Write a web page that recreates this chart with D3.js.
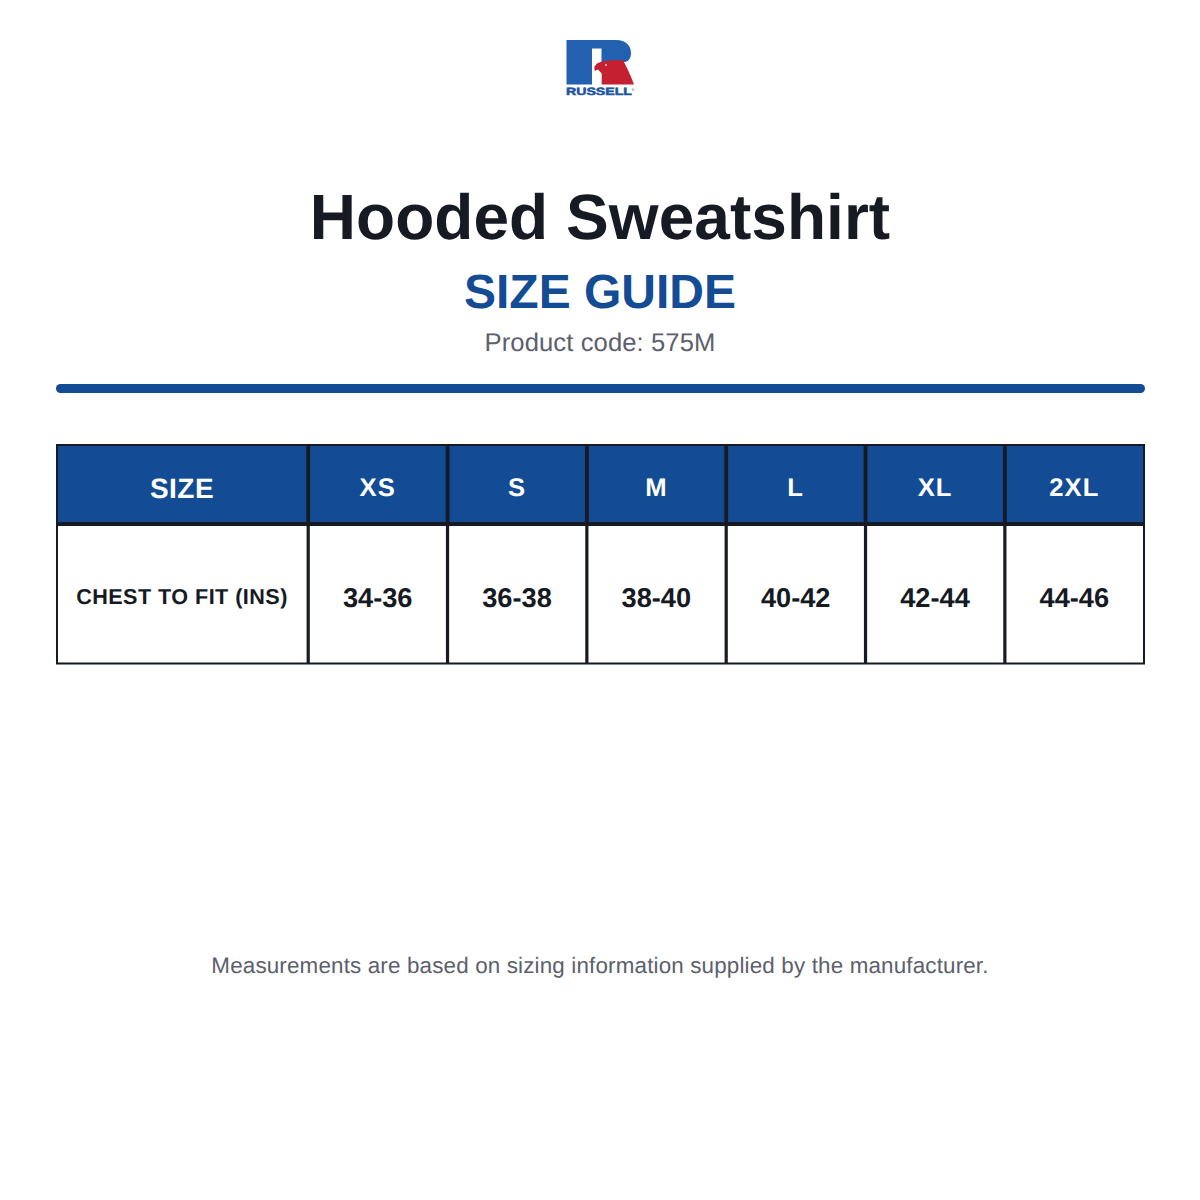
<!DOCTYPE html>
<html>
<head>
    <meta charset="utf-8">
    <title>Size Guide</title>
    <script src="https://d3js.org/d3.v7.min.js"></script>
    <style>
        html, body { margin: 0; background: #fff; }
        svg { display: block; }
        text { font-family: "Liberation Sans", Arial, sans-serif; text-anchor: middle; text-rendering: geometricPrecision; }
    </style>
</head>
<body>
    <svg class="guide"></svg>
    <script>
        const sizes = ["XS", "S", "M", "L", "XL", "2XL"]
        const chest = ["34-36", "36-38", "38-40", "40-42", "42-44", "44-46"]
        const rowHead = "SIZE"
        const rowLabel = "CHEST TO FIT (INS)"

        const blue = "#134b95", ink = "#151a23", grey = "#5c606c"
        const width = 1200, height = 1200

        const svg = d3.select(".guide").attr("width", width).attr("height", height)

        // logo
        const logo = svg.append("g")
        logo.append("path").attr("fill", "#2360b0")
            .attr("d", "M566.5 40H616C626 40 631 46 631 53C631 58 629 61 625 62H601.5V48.5H592V84.5H566.5Z")
        logo.append("path").attr("fill", "#c42032")
            .attr("d", "M594.3 66.7L597 63.5L601.7 61.5C609 60 617 60 623 60C627 68 631 76 634 84.5H601.7V73.5L598 69.5L594.7 71Z")
        logo.append("circle").attr("cx", 606).attr("cy", 65).attr("r", 0.9).attr("fill", "#f3d9d9")
        logo.append("text").attr("x", 566).attr("y", 94.8).attr("fill", "#1d55a3")
            .style("text-anchor", "start")
            .attr("font-size", 10.6).attr("font-weight", 700).attr("stroke", "#1d55a3").attr("stroke-width", 0.5)
            .attr("textLength", 66).attr("lengthAdjust", "spacingAndGlyphs").text("RUSSELL")
        logo.append("text").attr("x", 633).attr("y", 91).attr("fill", "#1d55a3")
            .attr("font-size", 4).text("®")

        // headings
        const title = (txt, y, size, weight, fill, spacing) => svg.append("text")
            .attr("x", 600).attr("y", y).attr("font-size", size).attr("font-weight", weight)
            .attr("letter-spacing", spacing).attr("fill", fill).text(txt)
        title("Hooded Sweatshirt", 238.5, 64, 700, ink, 0.05)
        title("SIZE GUIDE", 308, 48, 700, blue, 0)
        title("Product code: 575M", 351, 25.6, 400, grey, 0.1)
        title("Measurements are based on sizing information supplied by the manufacturer.", 973, 22.4, 400, grey, 0.16)

        svg.append("rect").attr("x", 56).attr("y", 384).attr("width", 1089).attr("height", 9)
            .attr("rx", 4.5).attr("fill", blue)

        // table
        const x = d3.scaleBand().domain(sizes).range([308, 1144])
        const y = d3.scaleOrdinal().domain(["top", "split", "bottom"]).range([445, 524, 663.5])

        svg.append("rect").attr("x", 57).attr("y", y("top")).attr("width", 1087)
            .attr("height", y("split") - y("top")).attr("fill", blue)

        const line = (x1, y1, x2, y2, w) => svg.append("line")
            .attr("x1", x1).attr("y1", y1).attr("x2", x2).attr("y2", y2)
            .attr("stroke", ink).attr("stroke-width", w)

        sizes.forEach(s => {
            line(x(s) + 0.2, y("top"), x(s) + 0.2, y("split"), 3.8)
            line(x(s) + 0.2, y("split"), x(s) + 0.2, y("bottom"), 3.2)
        })
        line(56, y("top"), 1145, y("top"), 2)
        line(56, y("split"), 1145, y("split"), 4)
        line(56, y("bottom"), 1145, y("bottom"), 2)
        line(57, y("top"), 57, y("bottom"), 2)
        line(1144, y("top"), 1144, y("bottom"), 2)

        sizes.forEach((s, i) => {
            const cx = x(s) + x.bandwidth() / 2
            svg.append("text").attr("x", cx).attr("y", 496).attr("letter-spacing", 1)
                .attr("font-size", 25.6).attr("font-weight", 700).attr("fill", "#fff").text(s)
            svg.append("text").attr("x", cx).attr("y", 607)
                .attr("font-size", 27.2).attr("font-weight", 700).attr("fill", ink).text(chest[i])
        })
        svg.append("text").attr("x", 182).attr("y", 498).attr("font-size", 28).attr("letter-spacing", 0.5)
            .attr("font-weight", 700).attr("fill", "#fff").text(rowHead)
        svg.append("text").attr("x", 182).attr("y", 604).attr("font-size", 21.6).attr("letter-spacing", 0.45)
            .attr("font-weight", 700).attr("fill", ink).text(rowLabel)
    </script>
</body>
</html>
